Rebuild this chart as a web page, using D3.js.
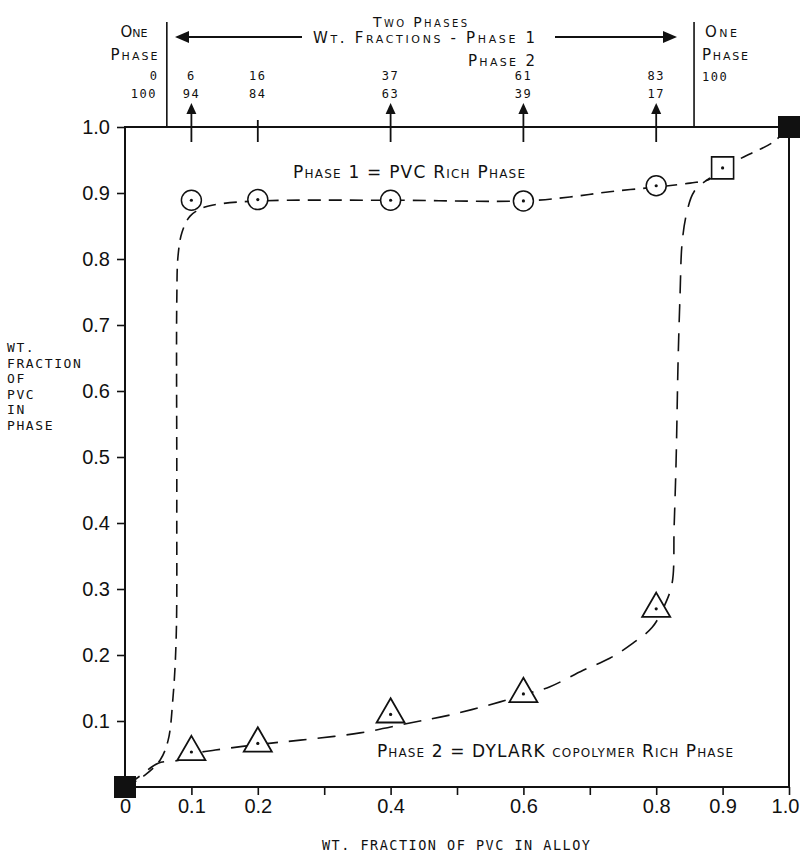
<!DOCTYPE html>
<html>
<head>
<meta charset="utf-8">
<script src="https://cdn.jsdelivr.net/npm/d3@7/dist/d3.min.js"></script>
<style>
body { margin: 0; background: #fff; }
svg { display: block; }
text { fill: #111; }
</style>
</head>
<body>
<svg id="chart"></svg>
<script>
// alloy compositions, wt. fraction PVC in alloy
var alloys = [0.1, 0.2, 0.4, 0.6, 0.8];
var phase1Pct = [6, 16, 37, 61, 83];
var phase2Pct = [94, 84, 63, 39, 17];
var arrowed = [true, false, true, true, true];

// measured phase compositions
var phase1Y = [0.889, 0.890, 0.889, 0.888, 0.911];
var phase2Y = [0.053, 0.066, 0.110, 0.141, 0.270];
var singleX = [0.9], singleY = [0.938];
var pureX = [0, 1], pureY = [0, 1];

// one phase / two phase limits
var boundaries = [0.063, 0.857];

var xTicks = [0, 0.1, 0.2, 0.3, 0.4, 0.5, 0.6, 0.7, 0.8, 0.9, 1.0];
var xLabeled = [0, 0.1, 0.2, 0.4, 0.6, 0.8, 0.9, 1.0];
var yTicks = [0.1, 0.2, 0.3, 0.4, 0.5, 0.6, 0.7, 0.8, 0.9, 1.0];

// hand drawn phase boundary curves
var upperCurve = [
    [0, 0], [0.030, 0.018], [0.053, 0.041], [0.065, 0.071], [0.072, 0.132],
    [0.077, 0.223], [0.078, 0.435], [0.078, 0.738], [0.080, 0.806], [0.086, 0.841],
    [0.098, 0.865], [0.116, 0.877], [0.140, 0.883], [0.202, 0.888], [0.404, 0.889],
    [0.602, 0.888], [0.670, 0.894], [0.730, 0.902], [0.800, 0.909], [0.851, 0.915],
    [0.881, 0.921], [0.900, 0.938], [0.941, 0.959], [0.976, 0.977], [1, 1]
];
var lowerCurve = [
    [0, 0], [0.023, 0.017], [0.050, 0.036], [0.083, 0.041], [0.102, 0.050],
    [0.136, 0.056], [0.206, 0.065], [0.264, 0.071], [0.354, 0.082], [0.429, 0.097],
    [0.489, 0.109], [0.565, 0.129], [0.604, 0.141], [0.640, 0.152], [0.690, 0.177],
    [0.730, 0.195], [0.765, 0.218], [0.794, 0.242], [0.813, 0.276], [0.824, 0.309],
    [0.827, 0.394], [0.830, 0.495], [0.833, 0.647], [0.836, 0.748], [0.839, 0.824],
    [0.846, 0.870], [0.857, 0.902], [0.881, 0.923]
];

var width = 800, height = 852;
var svg = d3.select("#chart").attr("width", width).attr("height", height);

var x = d3.scaleLinear().domain([0, 1]).range([125, 789]);
var y = d3.scaleLinear().domain([0, 1]).range([787, 127]);

var label = function(px, py, str, o) {
    o = o || {};
    var t = svg.append("text")
        .attr("x", px).attr("y", py)
        .attr("text-anchor", o.anchor || "start")
        .style("font-family", o.family || "'DejaVu Sans', sans-serif")
        .style("font-size", (o.size || 15) + "px")
        .text(str);
    if (o.caps) t.style("font-variant", "small-caps");
    if (o.spacing) t.style("letter-spacing", o.spacing + "px");
    if (o.len) t.attr("textLength", o.len).attr("lengthAdjust", "spacing");
    return t;
};

// curves
var line = d3.line()
    .x(d => x(d[0]))
    .y(d => y(d[1]))
    .curve(d3.curveCatmullRom.alpha(0.5));

svg.append("path").datum(upperCurve)
    .attr("d", line)
    .attr("fill", "none").attr("stroke", "#111")
    .attr("stroke-width", 1.6).attr("stroke-dasharray", "13,8");
svg.append("path").datum(lowerCurve)
    .attr("d", line)
    .attr("fill", "none").attr("stroke", "#111")
    .attr("stroke-width", 1.6).attr("stroke-dasharray", "18,11");

// axes
svg.append("g")
    .attr("transform", "translate(" + x(0) + ",0)")
    .call(d3.axisLeft(y).tickValues(yTicks).tickSize(8).tickPadding(7)
        .tickFormat(d3.format(".1f")))
    .call(g => g.select(".domain").remove());

svg.append("g")
    .attr("transform", "translate(0," + y(0) + ")")
    .call(d3.axisBottom(x).tickValues(xTicks).tickSize(8).tickPadding(4)
        .tickFormat(d => xLabeled.indexOf(d) < 0 ? "" : (d === 0 ? "0" : d3.format(".1f")(d))))
    .call(g => g.select(".domain").remove())
    // last label sits on the page edge
    .call(g => g.selectAll(".tick text").filter(d => d === 1).attr("dx", -4));

svg.selectAll(".tick text")
    .style("font-family", "'Liberation Sans', Arial, sans-serif")
    .style("font-size", "20px")
    .attr("fill", "#111");
svg.selectAll(".tick line").attr("stroke", "#111").attr("stroke-width", 1.6);

svg.append("rect")
    .attr("x", x(0)).attr("y", y(1))
    .attr("width", x(1) - x(0)).attr("height", y(0) - y(1))
    .attr("fill", "none").attr("stroke", "#111").attr("stroke-width", 2);

// top marks for the alloys
alloys.forEach(function(a, i) {
    svg.append("line")
        .attr("x1", x(a)).attr("x2", x(a))
        .attr("y1", arrowed[i] ? 106 : 120).attr("y2", 142)
        .attr("stroke", "#111").attr("stroke-width", 1.8);
    if (arrowed[i]) {
        svg.append("path")
            .attr("d", "M" + x(a) + ",103 l-5,11 l10,0 z")
            .attr("fill", "#111");
    }
    label(x(a), 80, phase1Pct[i], {anchor: "middle", size: 12, spacing: 1.5, family: "'DejaVu Sans Mono', monospace"});
    label(x(a), 98, phase2Pct[i], {anchor: "middle", size: 12, spacing: 1.5, family: "'DejaVu Sans Mono', monospace"});
});

boundaries.forEach(function(b) {
    svg.append("line")
        .attr("x1", x(b)).attr("x2", x(b))
        .attr("y1", 22).attr("y2", y(1))
        .attr("stroke", "#111").attr("stroke-width", 1.6);
});

// horizontal arrows
svg.append("line").attr("x1", 186).attr("x2", 302).attr("y1", 37).attr("y2", 37)
    .attr("stroke", "#111").attr("stroke-width", 2);
svg.append("path").attr("d", "M175,37 l14,-6 l0,12 z").attr("fill", "#111");
svg.append("line").attr("x1", 555).attr("x2", 666).attr("y1", 37).attr("y2", 37)
    .attr("stroke", "#111").attr("stroke-width", 2);
svg.append("path").attr("d", "M677,37 l-14,-6 l0,12 z").attr("fill", "#111");

// header texts
label(134, 37, "One", {anchor: "middle", caps: true, size: 15, len: 27});
label(134, 60, "Phase", {anchor: "middle", caps: true, size: 15, len: 47});
label(157, 80, "0", {anchor: "end", size: 12, family: "'DejaVu Sans Mono', monospace"});
label(157, 98, "100", {anchor: "end", size: 12, spacing: 1.5, family: "'DejaVu Sans Mono', monospace"});
label(721, 37, "One", {anchor: "middle", caps: true, size: 15, len: 32});
label(725, 60, "Phase", {anchor: "middle", caps: true, size: 15, len: 46});
label(702, 81, "100", {anchor: "start", size: 12, spacing: 1.5, family: "'DejaVu Sans Mono', monospace"});
label(373, 27, "Two Phases", {caps: true, size: 14, len: 94});
label(313, 43, "Wt. Fractions - Phase 1", {caps: true, size: 15, len: 222});
label(468, 66, "Phase 2", {caps: true, size: 15, len: 67});

// annotations in the plot
label(293, 178, "Phase 1 = PVC Rich Phase", {caps: true, size: 17, len: 232});
label(377, 757, "Phase 2 = DYLARK copolymer Rich Phase", {caps: true, size: 17, len: 356});

// axis titles
["WT.", "FRACTION", "OF", "PVC", "IN", "PHASE"].forEach(function(s, i) {
    label(7, 352 + i * 15.5, s, {size: 13, spacing: 1.6, family: "'DejaVu Sans Mono', monospace"});
});
label(322, 850, "WT. FRACTION OF PVC IN ALLOY", {size: 13.5, len: 268, family: "'DejaVu Sans Mono', monospace"});

// markers
var sym = function(type, size) { return d3.symbol().type(type).size(size)(); };
var dot = function(cx, cy) {
    svg.append("circle").attr("cx", cx).attr("cy", cy).attr("r", 1.6).attr("fill", "#111");
};

alloys.forEach(function(a, i) {
    svg.append("path")
        .attr("d", sym(d3.symbolCircle, 314))
        .attr("transform", "translate(" + x(a) + "," + y(phase1Y[i]) + ")")
        .attr("fill", "#fff").attr("stroke", "#111").attr("stroke-width", 1.5);
    dot(x(a), y(phase1Y[i]));
    svg.append("path")
        .attr("d", sym(d3.symbolTriangle, 340))
        .attr("transform", "translate(" + x(a) + "," + y(phase2Y[i]) + ")")
        .attr("fill", "#fff").attr("stroke", "#111").attr("stroke-width", 1.8);
    dot(x(a), y(phase2Y[i]));
});

singleX.forEach(function(s, i) {
    svg.append("path")
        .attr("d", sym(d3.symbolSquare, 484))
        .attr("transform", "translate(" + x(s) + "," + y(singleY[i]) + ")")
        .attr("fill", "#fff").attr("stroke", "#111").attr("stroke-width", 1.6);
    dot(x(s), y(singleY[i]));
});

pureX.forEach(function(p, i) {
    svg.append("path")
        .attr("d", sym(d3.symbolSquare, 484))
        .attr("transform", "translate(" + x(p) + "," + y(pureY[i]) + ")")
        .attr("fill", "#111");
});
</script>
</body>
</html>
